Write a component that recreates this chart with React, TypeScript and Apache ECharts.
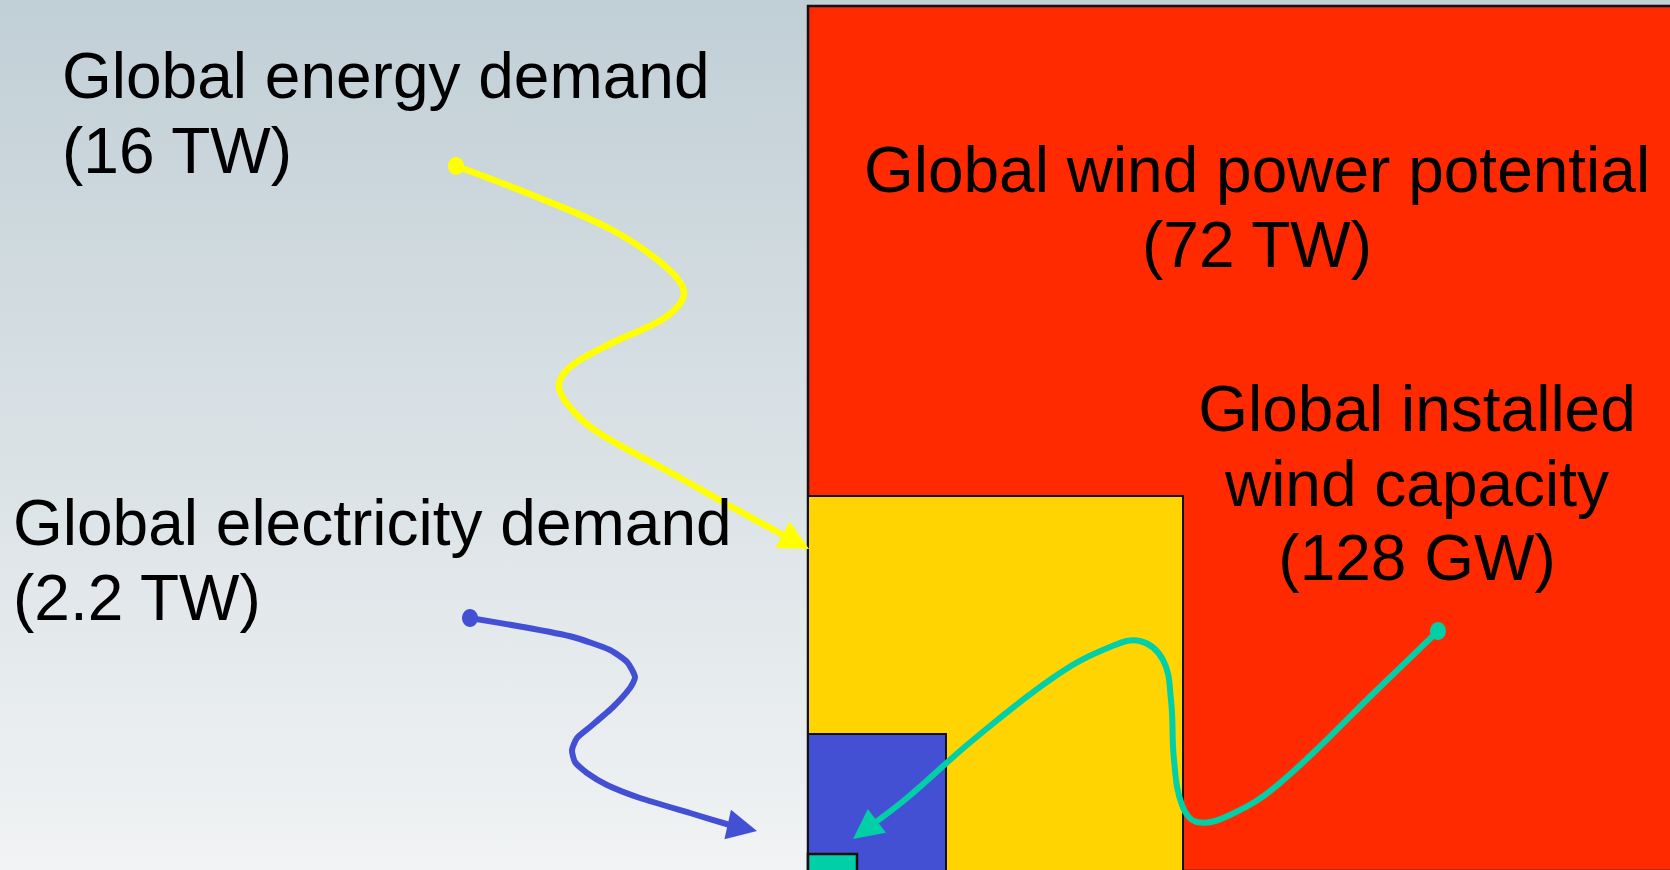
import React, { useEffect, useRef } from "react";
import * as echarts from "echarts";

// ---- data ----
const squareNames = [
  "Global wind power potential",
  "Global energy demand",
  "Global electricity demand",
  "Global installed wind capacity",
];
const squareValues = ["72 TW", "16 TW", "2.2 TW", "128 GW"];
// side length of each nested square, in chart units
const squareSides = [865, 375, 138, 49];
// top edge of each square, in chart units (squares run past the bottom edge)
const squareTops = [6, 496, 734, 854];
const squareColors = ["#ff2a00", "#ffd400", "#4450d4", "#00cfa8"];

// annotation label lines (name wrapped, value underneath)
const labelLines: string[][] = [
  ["Global wind power potential", "(" + squareValues[0] + ")"],
  ["Global energy demand", "(" + squareValues[1] + ")"],
  ["Global electricity demand", "(" + squareValues[2] + ")"],
  ["Global installed", "wind capacity", "(" + squareValues[3] + ")"],
];

// curved arrows: energy demand, electricity demand, installed capacity
const energyCurve = [
  [456, 166], [532, 195], [612, 230], [666, 267], [684, 293], [666, 317],
  [612, 343], [570, 367], [559, 387], [575, 413], [602, 435], [666, 470],
  [730, 506], [783, 535], [809, 549],
];
const electricityCurve = [
  [470, 618], [523, 627], [573, 637], [610, 650], [627, 662], [635, 677],
  [630, 688], [613, 707], [590, 727], [577, 738], [572, 750], [575, 762],
  [587, 773], [607, 785], [640, 798], [690, 813], [730, 825], [757, 831],
];
const installedCurve = [
  [1438, 631], [1380, 687], [1280, 783], [1230, 815], [1197, 822],
  [1182, 805], [1174, 760], [1171, 700], [1163, 660], [1140, 641],
  [1110, 647], [1057, 675], [973, 740], [907, 798], [853, 839],
];
const curves = [energyCurve, electricityCurve, installedCurve];
const curveColors = ["#ffff00", "#4450d4", "#00cfa8"];
const curveWidths = [6.5, 6, 6];
const curveSmooth = [0.35, 0.2, 0.4];

// ---- layout constants ----
const X_MAX = 1670;
const Y_MAX = 870;
const SQUARE_LEFT = 808;
const LABEL_ANCHORS: [number, number, string][] = [
  [1257, 170, "center"],
  [62, 76, "left"],
  [13, 523, "left"],
  [1417, 409, "center"],
];
const LINE_STEP = 74.5;
const FONT = '"Liberation Sans", Arial, Helvetica, sans-serif';

export default function App() {
  const ref = useRef<HTMLDivElement>(null);

  useEffect(() => {
    document.body.style.margin = "0";
    const chart = echarts.init(ref.current as HTMLDivElement, undefined, {
      renderer: "svg",
    });

    const labelSeriesData: number[][] = [];
    labelLines.forEach((lines, i) => {
      lines.forEach((_, j) => {
        labelSeriesData.push([
          LABEL_ANCHORS[i][0],
          LABEL_ANCHORS[i][1] + j * LINE_STEP,
          i,
          j,
        ]);
      });
    });

    const option: any = {
      animation: false,
      backgroundColor: {
        type: "linear",
        x: 0,
        y: 0,
        x2: 0,
        y2: 1,
        colorStops: [
          { offset: 0, color: "#c1cfd6" },
          { offset: 0.5, color: "#d9e1e5" },
          { offset: 1, color: "#f1f3f4" },
        ],
      },
      grid: { left: 0, right: 0, top: 0, bottom: 0 },
      xAxis: { type: "value", min: 0, max: X_MAX, show: false },
      yAxis: { type: "value", min: 0, max: Y_MAX, inverse: true, show: false },
      tooltip: { show: false },
      series: [
        {
          type: "custom",
          name: "squares",
          silent: true,
          clip: true,
          data: squareSides.map((s, i) => [SQUARE_LEFT + s, squareTops[i]]),
          encode: { x: 0, y: 1 },
          renderItem: (params: any, api: any) => {
            const i = params.dataIndex;
            const side = squareSides[i];
            const pTL = api.coord([SQUARE_LEFT, api.value(1)]);
            const pBR = api.coord([api.value(0), api.value(1) + side]);
            return {
              type: "rect",
              shape: {
                x: pTL[0],
                y: pTL[1],
                width: pBR[0] - pTL[0],
                height: pBR[1] - pTL[1],
              },
              style: {
                fill: squareColors[i],
                stroke: "#111",
                lineWidth: i === 0 || i === 3 ? 2.5 : 2,
              },
              name: squareNames[i],
            };
          },
          z: 1,
        },
        {
          type: "custom",
          name: "arrows",
          silent: true,
          data: curves.map((c) => c[0]),
          encode: { x: 0, y: 1 },
          renderItem: (params: any, api: any) => {
            const i = params.dataIndex;
            const pts = curves[i].map((p) => api.coord(p));
            const n = pts.length;
            const tip = pts[n - 1];
            const prev = pts[n - 2];
            const dx = tip[0] - prev[0];
            const dy = tip[1] - prev[1];
            const len = Math.hypot(dx, dy) || 1;
            const ux = dx / len;
            const uy = dy / len;
            const L = 30;
            const W = 15;
            const bx = tip[0] - ux * L;
            const by = tip[1] - uy * L;
            const lineEnd = [tip[0] - ux * L * 0.6, tip[1] - uy * L * 0.6];
            const linePts = pts.slice(0, n - 1).concat([lineEnd]);
            const color = curveColors[i];
            return {
              type: "group",
              children: [
                {
                  type: "polyline",
                  shape: { points: linePts, smooth: curveSmooth[i] },
                  style: {
                    stroke: color,
                    lineWidth: curveWidths[i],
                    fill: null,
                    lineJoin: "round",
                    lineCap: "round",
                  },
                },
                {
                  type: "polygon",
                  shape: {
                    points: [
                      tip,
                      [bx - uy * W, by + ux * W],
                      [bx + uy * W, by - ux * W],
                    ],
                  },
                  style: { fill: color },
                },
                {
                  type: "ellipse",
                  shape: { cx: pts[0][0], cy: pts[0][1], rx: 8, ry: 9 },
                  style: { fill: color },
                },
              ],
            };
          },
          z: 3,
        },
        {
          type: "custom",
          name: "labels",
          silent: true,
          data: labelSeriesData,
          encode: { x: 0, y: 1 },
          renderItem: (params: any, api: any) => {
            const i = api.value(2);
            const j = api.value(3);
            const p = api.coord([api.value(0), api.value(1)]);
            const align = LABEL_ANCHORS[i][2];
            return {
              type: "text",
              x: p[0],
              y: p[1],
              style: {
                text: labelLines[i][j],
                fontSize: 64,
                fontFamily: FONT,
                fill: "#000",
                align: align,
                textAlign: align,
                verticalAlign: "middle",
                textVerticalAlign: "middle",
              },
            };
          },
          z: 5,
        },
      ],
    };

    chart.setOption(option);
    return () => chart.dispose();
  }, []);

  return (
    <div
      ref={ref}
      style={{ position: "absolute", left: 0, top: 0, width: 1670, height: 870 }}
    />
  );
}
